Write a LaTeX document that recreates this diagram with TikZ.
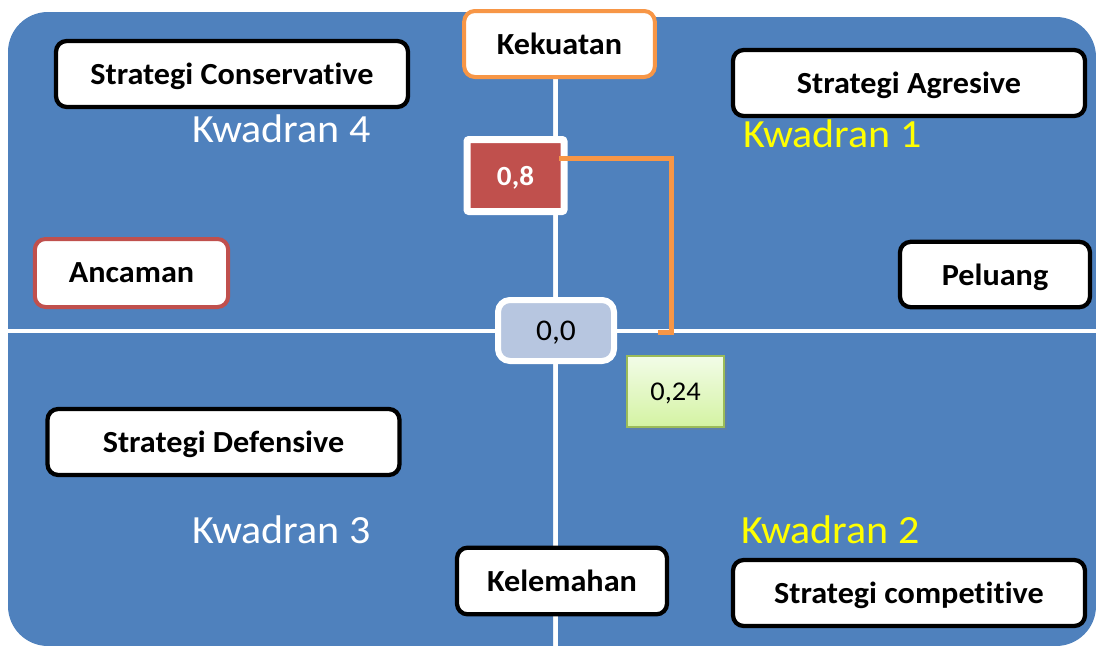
\documentclass[tikz,border=0pt]{standalone}
\usepackage{fontspec}
\setmainfont{Carlito}[FakeStretch=1.05,RawFeature=-liga]
\usetikzlibrary{calc,shadows}
\definecolor{quadblue}{HTML}{4F81BD}
\definecolor{accorange}{HTML}{F79646}
\definecolor{accred}{HTML}{C0504D}
\definecolor{accgreen}{HTML}{9BBB59}
\definecolor{originbg}{HTML}{B7C6E0}
\definecolor{valtop}{HTML}{F2FCE8}
\definecolor{valbot}{HTML}{D4F3A2}
\definecolor{kwyellow}{HTML}{FFFF00}
\tikzset{
  quadfill/.style={fill=quadblue,rounded corners=30pt},
  labelbox/.style={draw=black,fill=white,rounded corners=8pt,line width=3.2pt,
                   inner sep=0pt,text depth=0pt,
                   font=\bfseries\fontsize{23}{27}\selectfont},
  stratbox/.style={labelbox,minimum width=264pt,minimum height=49.5pt},
  kwlabel/.style={anchor=base west,inner sep=0pt,font=\fontsize{30}{35}\selectfont},
  linkline/.style={draw=accorange,line width=3.75pt,line cap=rect},
}
\begin{document}
\begin{tikzpicture}[x=0.75pt,y=-0.75pt]
  \useasboundingbox (0,0) rectangle (1096,646);
  % quadrants
  \begin{scope}
    \clip (8,12) rectangle (553,328);
    \fill[quadfill] (8,12) rectangle (700,450);
  \end{scope}
  \begin{scope}
    \clip (558,17) rectangle (1096,328);
    \fill[quadfill] (400,17) rectangle (1096,450);
  \end{scope}
  \begin{scope}
    \clip (8,333) rectangle (553,646);
    \fill[quadfill] (8,200) rectangle (700,646);
  \end{scope}
  \begin{scope}
    \clip (558,333) rectangle (1096,646);
    \fill[quadfill] (400,200) rectangle (1096,646);
  \end{scope}
  % strategy boxes
  \node[stratbox] (cons) at (232,74) {Strategi Conservative};
  \node[stratbox] (agr) at (909,83) {Strategi Agresive};
  \node[stratbox] (def) at (223.5,442) {Strategi Defensive};
  \node[stratbox] (comp) at (909,593) {Strategi competitive};
  % axis ends
  \node[labelbox,draw=accorange,line width=3pt,minimum width=143pt,
        minimum height=49.5pt] (kek) at (559.5,44) {Kekuatan};
  \node[labelbox,minimum width=157.5pt,minimum height=50pt]
    (kel) at (562,581) {Kelemahan};
  \node[labelbox,draw=accred,line width=3pt,minimum width=145pt,
        minimum height=51pt] (anc) at (131.5,273) {Ancaman};
  \node[labelbox,minimum width=142.5pt,minimum height=49pt]
    (pel) at (995,274.5) {Peluang};
  % quadrant names
  \node[kwlabel,white] (kw4) at (192,142) {Kwadran 4};
  \node[kwlabel,kwyellow] (kw1) at (743,147) {Kwadran 1};
  \node[kwlabel,white] (kw3) at (192,543) {Kwadran 3};
  \node[kwlabel,kwyellow] (kw2) at (741,543) {Kwadran 2};
  % values
  \node[fill=accred,draw=white,line width=5.25pt,rounded corners=1.5pt,
        minimum width=72.75pt,minimum height=54pt,inner sep=0pt,text=white,
        text depth=0pt,font=\bfseries\fontsize{20.8}{24}\selectfont,
        drop shadow={opacity=0.25,shadow xshift=1.5pt,shadow yshift=-1.5pt}]
    (v08) at (515.5,175.5) {0,8};
  \node[fill=originbg,draw=white,line width=4.5pt,rounded corners=9pt,
        minimum width=87pt,minimum height=45.75pt,inner sep=0pt,text depth=0pt,
        font=\fontsize{22.5}{26}\selectfont] (v00) at (556,330.5) {0,0};
  \node[top color=valtop,bottom color=valbot,draw=accgreen,line width=1pt,
        minimum width=72.75pt,minimum height=53.25pt,inner sep=0pt,text depth=0pt,
        font=\fontsize{20.3}{24}\selectfont,
        drop shadow={opacity=0.3,shadow xshift=2pt,shadow yshift=-2pt}]
    (v24) at (675.5,391.5) {0,24};
  % connector
  \coordinate (bend) at (671,332);
  \coordinate (tip) at (660,332);
  \draw[linkline] ($(v08.east)+(-6,-17.5)$) -| (bend) -- (tip);
\end{tikzpicture}
\end{document}
